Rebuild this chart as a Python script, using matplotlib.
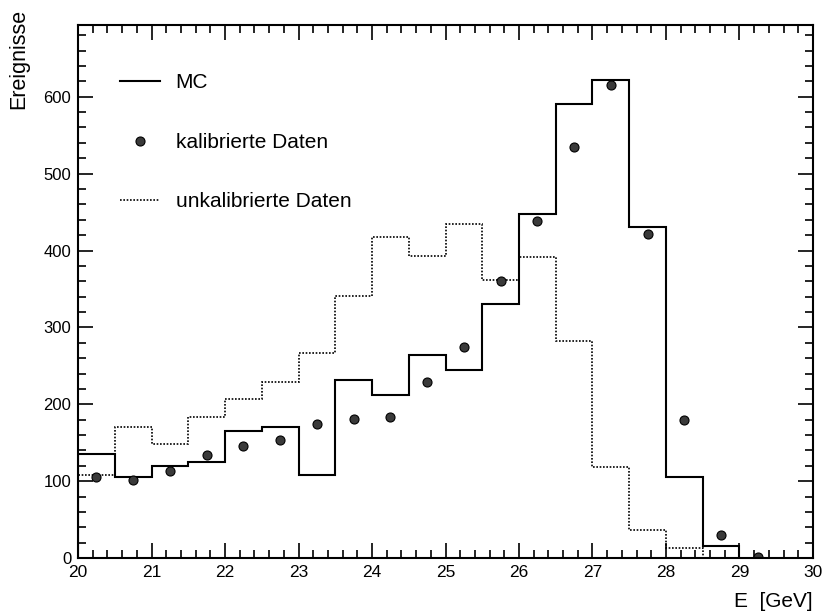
import matplotlib
matplotlib.use("Agg")
import matplotlib.pyplot as plt
from matplotlib.ticker import MultipleLocator
import numpy as np

plt.rcParams["font.family"] = ["Liberation Sans", "DejaVu Sans"]

# bin edges (GeV), width 0.5
mc_edges = np.arange(20.0, 29.01, 0.5)
unc_edges = np.arange(20.0, 28.51, 0.5)

# Monte Carlo histogram
mc_counts = [135, 105, 120, 125, 165, 171, 108, 231, 212, 264,
             245, 330, 447, 590, 622, 431, 106, 16]

# uncalibrated data histogram
unc_counts = [108, 171, 149, 184, 207, 229, 267, 341, 417, 393,
              435, 362, 392, 282, 119, 36, 13]

# calibrated data points (bin centres)
cal_x = [20.25, 20.75, 21.25, 21.75, 22.25, 22.75, 23.25, 23.75, 24.25, 24.75,
         25.25, 25.75, 26.25, 26.75, 27.25, 27.75, 28.25, 28.75, 29.25]
cal_y = [105, 101, 113, 134, 146, 153, 174, 181, 183, 229,
         275, 360, 439, 534, 615, 422, 179, 30, 1]

fig = plt.figure(figsize=(8.22, 6.14), dpi=100)
ax = fig.add_axes([0.095, 0.091, 0.894, 0.868])

ax.stairs(mc_counts, mc_edges, color="black", lw=1.5, label="MC")
ax.plot(cal_x, cal_y, "o", ms=6.5, mfc="#3a3a3a", mec="black", mew=0.8,
        label="kalibrierte Daten")
ax.stairs(unc_counts, unc_edges, color="black", lw=1.2,
          linestyle=(0, (1, 1)), label="unkalibrierte Daten")

ax.set_xlim(20, 30)
ax.set_ylim(0, 693)

ax.xaxis.set_major_locator(MultipleLocator(1))
ax.xaxis.set_minor_locator(MultipleLocator(0.2))
ax.yaxis.set_major_locator(MultipleLocator(100))
ax.yaxis.set_minor_locator(MultipleLocator(20))
ax.tick_params(which="both", direction="in", top=True, right=True, width=1.2)
ax.tick_params(which="major", length=11, pad=5)
ax.tick_params(which="minor", length=6)
ax.tick_params(axis="x", labelsize=12.5)
ax.tick_params(axis="y", labelsize=12)
for s in ax.spines.values():
    s.set_linewidth(1.5)

fig.text(0.01, 0.985, "Ereignisse", rotation=90, ha="left", va="top", fontsize=15.5)
fig.text(0.988, 0.005, "E  [GeV]", ha="right", va="bottom", fontsize=15)

ax.legend(loc="upper left", bbox_to_anchor=(0.032, 0.945), frameon=False,
          fontsize=15, handlelength=1.9, handletextpad=0.75, labelspacing=1.95)

fig.savefig("out.png", dpi=100)
